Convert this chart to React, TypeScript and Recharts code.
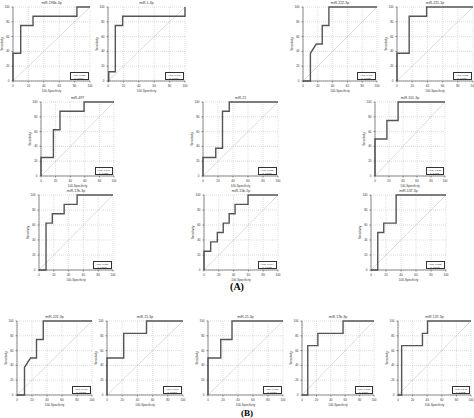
import React from "react";
import {
  LineChart,
  Line,
  XAxis,
  YAxis,
  CartesianGrid,
  ReferenceLine,
  Label,
} from "recharts";

// tick labels shared by every ROC panel
const ticks = [0, 20, 40, 60, 80, 100];

// panel titles, (A) panels first then (B)
const titles = [
  "miR-196b-3p",
  "miR-1-3p",
  "miR-222-3p",
  "miR-221-3p",
  "miR-497",
  "miR-21",
  "miR-101-3p",
  "miR-17b-3p",
  "miR-15b-5p",
  "miR-137-3p",
  "miR-222-3p",
  "miR-15-3p",
  "miR-21-3p",
  "miR-17b-3p",
  "miR-137-3p",
];

const aucValues = [
  "0.826", "0.791", "0.793", "0.871",
  "0.797", "0.805", "0.875",
  "0.811", "0.764", "0.808",
  "0.793", "0.840", "0.878", "0.815", "0.843",
];

const pValues = [
  "p=0.004", "p=0.009", "p=0.008", "p=0.001",
  "p=0.021", "p=0.006", "p=0.001",
  "p=0.005", "p=0.015", "p=0.006",
  "p=0.008", "p=0.003", "p=0.001", "p=0.004", "p=0.002",
];

// 100-specificity (x) of each ROC step
const fprValues: number[][] = [
  [0, 0, 10, 10, 26, 26, 83, 83, 100],
  [0, 1, 1, 9.5, 9.5, 19, 19, 100, 100],
  [0, 10, 10, 18, 26, 26, 35, 35, 100],
  [0, 0, 16, 16, 39, 39, 100],
  [0, 0, 17, 17, 26, 26, 59, 59, 100],
  [0, 0, 17, 17, 26, 26, 35, 35, 100],
  [0, 0, 17, 17, 33, 33, 100],
  [0, 9.5, 9.5, 18, 18, 34, 34, 51.5, 51.5, 100],
  [0, 0, 9, 9, 18, 18, 26, 26, 34, 34, 42, 42, 59.5, 59.5, 100],
  [0, 9, 9, 17, 17, 33.5, 33.5, 100],
  [0, 10, 10, 18, 26, 26, 35, 35, 100],
  [0, 0, 22, 22, 52, 52, 100],
  [0, 0, 17, 17, 32, 32, 100],
  [0, 8, 8, 22, 22, 57, 57, 100],
  [0, 5, 5, 33.5, 33.5, 40.5, 40.5, 100],
];

// sensitivity (y) of each ROC step
const tprValues: number[][] = [
  [0, 37.5, 37.5, 75, 75, 87.5, 87.5, 100, 100],
  [0, 0, 12.5, 12.5, 75, 75, 87.5, 87.5, 100],
  [0, 0, 37.5, 50, 50, 75, 75, 100, 100],
  [0, 37.5, 37.5, 87.5, 87.5, 100, 100],
  [0, 25, 25, 62.5, 62.5, 87.5, 87.5, 100, 100],
  [0, 25, 25, 37.5, 37.5, 87.5, 87.5, 100, 100],
  [0, 50, 50, 75, 75, 100, 100],
  [0, 0, 62.5, 62.5, 75, 75, 87.5, 87.5, 100, 100],
  [0, 25, 25, 37.5, 37.5, 50, 50, 62.5, 62.5, 75, 75, 87.5, 87.5, 100, 100],
  [0, 0, 50, 50, 62.5, 62.5, 100, 100],
  [0, 0, 37.5, 50, 50, 75, 75, 100, 100],
  [0, 50, 50, 83.3, 83.3, 100, 100],
  [0, 50, 50, 75, 75, 100, 100],
  [0, 0, 66.7, 66.7, 83.3, 83.3, 100, 100],
  [0, 0, 66.7, 66.7, 83.3, 83.3, 100, 100],
];

// plot-area boxes of the panels on the page
const layout = [
  { left: 13, top: 7, w: 77, h: 74 },
  { left: 108, top: 7, w: 77, h: 74 },
  { left: 303, top: 7, w: 74, h: 74 },
  { left: 397, top: 7, w: 76, h: 74 },
  { left: 41, top: 102, w: 73, h: 74 },
  { left: 203, top: 102, w: 75, h: 74 },
  { left: 375, top: 102, w: 70, h: 74 },
  { left: 39, top: 195, w: 74, h: 75 },
  { left: 204, top: 195, w: 74, h: 75 },
  { left: 371, top: 195, w: 75, h: 75 },
  { left: 17, top: 321, w: 75, h: 74 },
  { left: 107, top: 321, w: 76, h: 74 },
  { left: 208, top: 321, w: 75, h: 74 },
  { left: 302, top: 321, w: 72, h: 74 },
  { left: 398, top: 321, w: 73, h: 74 },
];

const PAD_LEFT = 14;
const PAD_TOP = 7;
const PAD_RIGHT = 3;
const PAD_BOTTOM = 12;

function RocPanel({ i }: { i: number }) {
  const { left, top, w, h } = layout[i];
  const data = fprValues[i].map((x, k) => ({ x, y: tprValues[i][k] }));
  const W = w + PAD_LEFT + PAD_RIGHT;
  const H = h + PAD_TOP + PAD_BOTTOM;
  const tickStyle = { fontSize: 3, fill: "#333", fontFamily: "Arial" };

  return (
    <div
      style={{
        position: "absolute",
        left: left - PAD_LEFT,
        top: top - PAD_TOP,
        width: W,
        height: H,
      }}
    >
      <LineChart
        width={W}
        height={H}
        data={data}
        margin={{ top: PAD_TOP, right: PAD_RIGHT, left: 0, bottom: 0 }}
      >
        <CartesianGrid stroke="#aaa" strokeWidth={0.4} strokeDasharray="1 1" />
        <XAxis
          type="number"
          dataKey="x"
          domain={[0, 100]}
          ticks={ticks}
          interval={0}
          height={PAD_BOTTOM}
          tick={tickStyle}
          tickSize={1.5}
          stroke="#444"
          strokeWidth={0.6}
        >
          <Label
            value="100-Specificity"
            position="insideBottom"
            offset={1}
            fontSize={3}
            fill="#333"
            fontFamily="Arial"
          />
        </XAxis>
        <YAxis
          type="number"
          domain={[0, 100]}
          ticks={ticks}
          interval={0}
          width={PAD_LEFT}
          tick={tickStyle}
          tickSize={1.5}
          stroke="#444"
          strokeWidth={0.6}
        >
          <Label
            value="Sensitivity"
            angle={-90}
            position="insideLeft"
            offset={3}
            fontSize={3}
            fill="#333"
            fontFamily="Arial"
            style={{ textAnchor: "middle" }}
          />
        </YAxis>
        <ReferenceLine
          segment={[
            { x: 0, y: 0 },
            { x: 100, y: 100 },
          ]}
          stroke="#bbb"
          strokeWidth={0.5}
        />
        <Line
          type="linear"
          dataKey="y"
          stroke="#555"
          strokeWidth={1.4}
          dot={false}
          isAnimationActive={false}
        />
      </LineChart>
      <div
        style={{
          position: "absolute",
          left: PAD_LEFT,
          top: 1,
          width: w,
          textAlign: "center",
          fontFamily: "Arial",
          fontSize: 3.5,
          lineHeight: "4px",
          color: "#333",
        }}
      >
        {titles[i]}
      </div>
      <div
        style={{
          position: "absolute",
          right: PAD_RIGHT + 1.5,
          bottom: PAD_BOTTOM + 1.5,
          width: Math.round(w * 0.25),
          height: 8,
          border: "0.6px solid #333",
          background: "#fff",
          fontFamily: "Arial",
          fontSize: 2.5,
          lineHeight: "3px",
          color: "#222",
          textAlign: "center",
          paddingTop: 1,
          boxSizing: "border-box",
        }}
      >
        <div>AUC: {aucValues[i]}</div>
        <div>{pValues[i]}</div>
      </div>
    </div>
  );
}

export default function App() {
  return (
    <div
      style={{
        position: "absolute",
        left: 0,
        top: 0,
        width: 474,
        height: 418,
        background: "#fff",
      }}
    >
      {layout.map((_, i) => (
        <RocPanel key={i} i={i} />
      ))}
      <div
        style={{
          position: "absolute",
          left: 0,
          top: 281,
          width: 474,
          textAlign: "center",
          fontFamily: "Times New Roman, Liberation Serif, serif",
          fontWeight: "bold",
          fontSize: 10,
        }}
      >
        (A)
      </div>
      <div
        style={{
          position: "absolute",
          left: 10,
          top: 408,
          width: 474,
          textAlign: "center",
          fontFamily: "Times New Roman, Liberation Serif, serif",
          fontWeight: "bold",
          fontSize: 9,
          lineHeight: "10px",
        }}
      >
        (B)
      </div>
    </div>
  );
}
